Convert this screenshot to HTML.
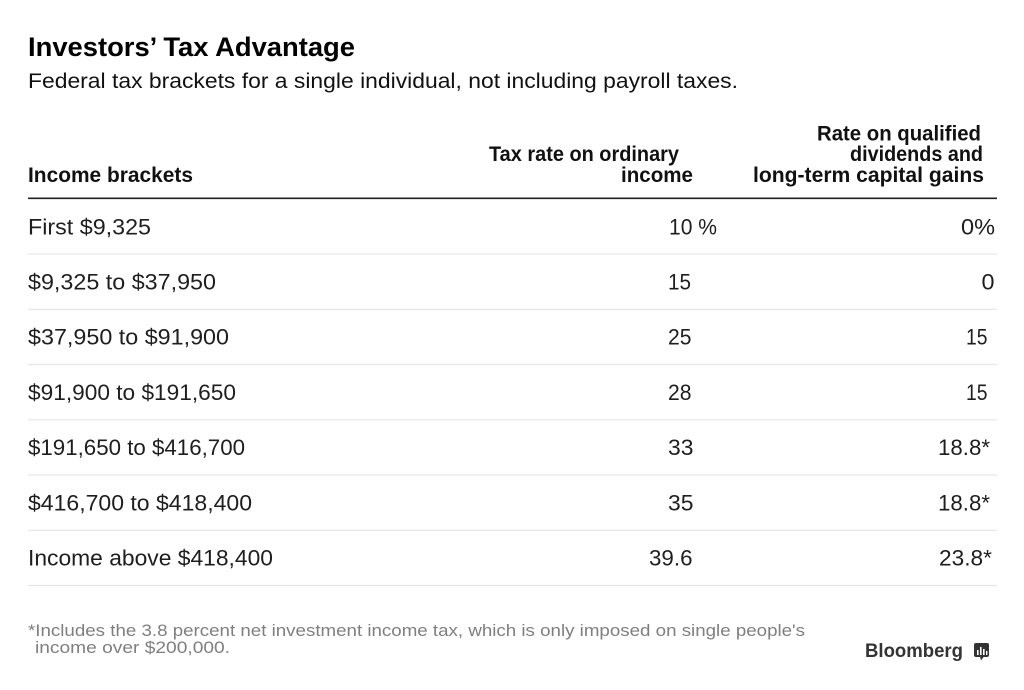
<!DOCTYPE html>
<html>
<head>
<meta charset="utf-8">
<style>
  html, body { margin: 0; padding: 0; background: #ffffff; }
  body { width: 1024px; height: 690px; overflow: hidden; }
  svg { display: block; }
  text { font-family: "Liberation Sans", Arial, sans-serif; }
  .b { font-weight: bold; }
</style>
</head>
<body>
<svg width="1024" height="690" viewBox="0 0 1024 690" xmlns="http://www.w3.org/2000/svg">
  <rect x="0" y="0" width="1024" height="690" fill="#ffffff"/>

  <!-- Title & subtitle -->
  <text x="28" y="56" class="b" font-size="27" fill="#000" textLength="327" lengthAdjust="spacingAndGlyphs">Investors’ Tax Advantage</text>
  <text x="28" y="88" font-size="21" fill="#111" textLength="710" lengthAdjust="spacingAndGlyphs">Federal tax brackets for a single individual, not including payroll taxes.</text>

  <!-- Headers -->
  <text x="817" y="140.5" class="b" font-size="21" fill="#111" textLength="164" lengthAdjust="spacingAndGlyphs">Rate on qualified</text>
  <text x="850" y="161" class="b" font-size="21" fill="#111" textLength="133" lengthAdjust="spacingAndGlyphs">dividends and</text>
  <text x="753" y="182" class="b" font-size="21" fill="#111" textLength="231" lengthAdjust="spacingAndGlyphs">long-term capital gains</text>

  <text x="489" y="161" class="b" font-size="21" fill="#111" textLength="190" lengthAdjust="spacingAndGlyphs">Tax rate on ordinary</text>
  <text x="621" y="182" class="b" font-size="21" fill="#111" textLength="72" lengthAdjust="spacingAndGlyphs">income</text>

  <text x="28" y="182" class="b" font-size="21" fill="#111" textLength="165" lengthAdjust="spacingAndGlyphs">Income brackets</text>

  <!-- Header rule -->
  <line x1="28" y1="198.3" x2="997" y2="198.3" stroke="#222" stroke-width="1.6"/>

  <!-- Row separators -->
  <g stroke="#e6e6e6" stroke-width="1.2">
    <line x1="28" y1="254" x2="997" y2="254"/>
    <line x1="28" y1="309.3" x2="997" y2="309.3"/>
    <line x1="28" y1="364.5" x2="997" y2="364.5"/>
    <line x1="28" y1="419.8" x2="997" y2="419.8"/>
    <line x1="28" y1="475" x2="997" y2="475"/>
    <line x1="28" y1="530.3" x2="997" y2="530.3"/>
    <line x1="28" y1="585.5" x2="997" y2="585.5"/>
  </g>

  <!-- Rows: labels -->
  <g font-size="22" fill="#1e1e1e">
    <text x="28" y="234.3" textLength="123" lengthAdjust="spacingAndGlyphs">First $9,325</text>
    <text x="28" y="289.5" textLength="188" lengthAdjust="spacingAndGlyphs">$9,325 to $37,950</text>
    <text x="28" y="344.7" textLength="201" lengthAdjust="spacingAndGlyphs">$37,950 to $91,900</text>
    <text x="28" y="399.9" textLength="208" lengthAdjust="spacingAndGlyphs">$91,900 to $191,650</text>
    <text x="28" y="455.1" textLength="217" lengthAdjust="spacingAndGlyphs">$191,650 to $416,700</text>
    <text x="28" y="510.3" textLength="224" lengthAdjust="spacingAndGlyphs">$416,700 to $418,400</text>
    <text x="28" y="565.5" textLength="245" lengthAdjust="spacingAndGlyphs">Income above $418,400</text>
  </g>

  <!-- Rows: ordinary income rate -->
  <g font-size="22" fill="#1e1e1e">
    <text x="669" y="234.3" textLength="48" lengthAdjust="spacingAndGlyphs">10 %</text>
    <text x="668" y="289.5" textLength="23" lengthAdjust="spacingAndGlyphs">15</text>
    <text x="668" y="344.7" textLength="23.5" lengthAdjust="spacingAndGlyphs">25</text>
    <text x="668" y="399.9" textLength="23.5" lengthAdjust="spacingAndGlyphs">28</text>
    <text x="668" y="455.1" textLength="25.5" lengthAdjust="spacingAndGlyphs">33</text>
    <text x="668" y="510.3" textLength="25.5" lengthAdjust="spacingAndGlyphs">35</text>
    <text x="649" y="565.5" textLength="43.5" lengthAdjust="spacingAndGlyphs">39.6</text>
  </g>

  <!-- Rows: qualified dividends / LTCG -->
  <g font-size="22" fill="#1e1e1e">
    <text x="961" y="234.3" textLength="34" lengthAdjust="spacingAndGlyphs">0%</text>
    <text x="981.5" y="289.5" textLength="13" lengthAdjust="spacingAndGlyphs">0</text>
    <text x="966" y="344.7" textLength="21.5" lengthAdjust="spacingAndGlyphs">15</text>
    <text x="966" y="399.9" textLength="21.5" lengthAdjust="spacingAndGlyphs">15</text>
    <text x="938" y="455.1" textLength="52" lengthAdjust="spacingAndGlyphs">18.8*</text>
    <text x="938" y="510.3" textLength="52" lengthAdjust="spacingAndGlyphs">18.8*</text>
    <text x="939" y="565.5" textLength="53" lengthAdjust="spacingAndGlyphs">23.8*</text>
  </g>

  <!-- Footnote -->
  <g font-size="17" fill="#7f7f7f">
    <text x="28" y="636" textLength="777" lengthAdjust="spacingAndGlyphs">*Includes the 3.8 percent net investment income tax, which is only imposed on single people's</text>
    <text x="35" y="653" textLength="195" lengthAdjust="spacingAndGlyphs">income over $200,000.</text>
  </g>

  <!-- Bloomberg logo -->
  <text x="865" y="657" class="b" font-size="19" fill="#333" textLength="98" lengthAdjust="spacingAndGlyphs">Bloomberg</text>
  <g>
    <rect x="974" y="643" width="15" height="14" rx="2" fill="#333"/>
    <polygon points="980,656.5 984,656.5 981,660.5" fill="#333"/>
    <rect x="977" y="650" width="1.6" height="5" fill="#fff"/>
    <rect x="980" y="647" width="1.6" height="8" fill="#fff"/>
    <rect x="983" y="649" width="1.6" height="6" fill="#fff"/>
    <rect x="986" y="651" width="1.4" height="4" fill="#fff"/>
  </g>
</svg>
</body>
</html>
